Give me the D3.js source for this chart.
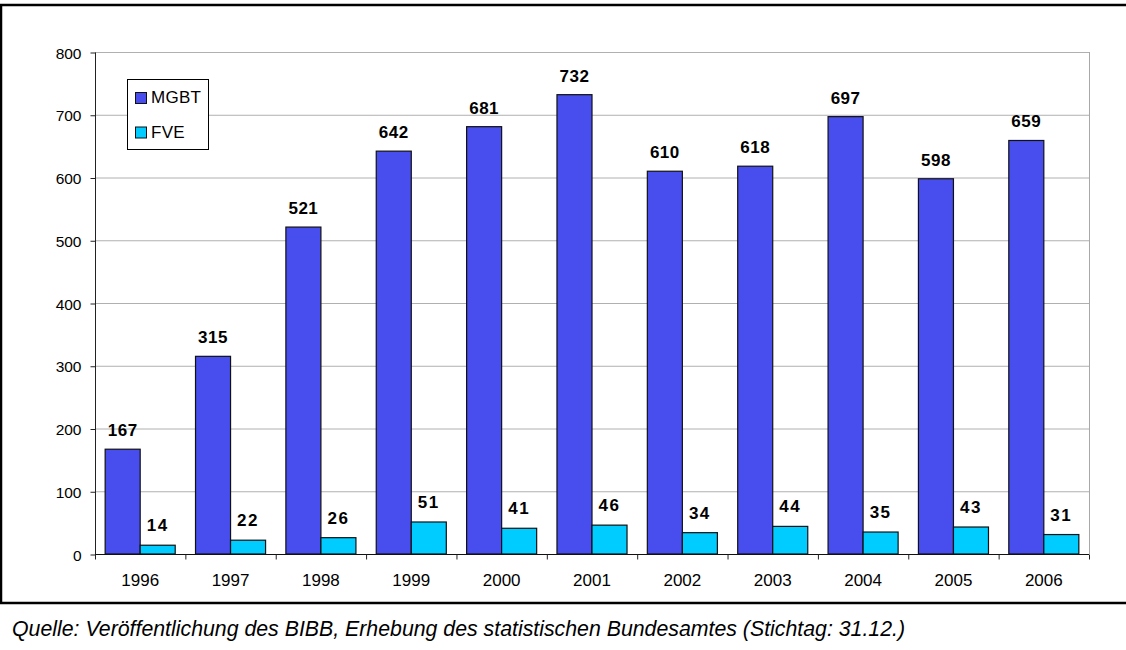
<!DOCTYPE html>
<html>
<head>
<meta charset="utf-8">
<script src="https://cdn.jsdelivr.net/npm/d3@7"></script>
<style>
  body { margin: 0; background: #fff; }
  svg { display: block; font-family: Arial, "Liberation Sans", sans-serif; }
</style>
</head>
<body>
<div id="graph"></div>
<script>
// Daten
var years = ["1996", "1997", "1998", "1999", "2000", "2001", "2002", "2003", "2004", "2005", "2006"];
var mgbt = [167, 315, 521, 642, 681, 732, 610, 618, 697, 598, 659];
var fve = [14, 22, 26, 51, 41, 46, 34, 44, 35, 43, 31];
var seriesNames = ["MGBT", "FVE"];
var seriesColors = ["#484ded", "#00ccff"];
var yTicks = [0, 100, 200, 300, 400, 500, 600, 700, 800];
var quelle = "Quelle: Veröffentlichung des BIBB, Erhebung des statistischen Bundesamtes (Stichtag: 31.12.)";

var width = 1126;
var height = 650;
// (window.top ist reserviert, daher andere Namen)
var plotLeft = 95, plotRight = 1089, plotTop = 52, plotBottom = 554;

var svg = d3.select("#graph")
            .append("svg")
            .attr("width", width)
            .attr("height", height);

// Rahmen
svg.append("line").attr("x1", 0).attr("x2", width).attr("y1", 5).attr("y2", 5)
   .style("stroke", "#000").style("stroke-width", 2.5);
svg.append("line").attr("x1", 1).attr("x2", 1).attr("y1", 4).attr("y2", 604)
   .style("stroke", "#000").style("stroke-width", 2.5);
svg.append("line").attr("x1", 0).attr("x2", width).attr("y1", 603).attr("y2", 603)
   .style("stroke", "#000").style("stroke-width", 2.5);

var xScale = d3.scaleBand().domain(years).range([plotLeft, plotRight]).paddingInner(0).paddingOuter(0);
var yScale = d3.scaleLinear().domain([0, 800]).range([plotBottom, plotTop]);
var inner = d3.scaleBand().domain(seriesNames).range([0, xScale.bandwidth()]).paddingOuter(0.29).paddingInner(0);

// Gitterlinien
svg.append("g")
   .selectAll("line")
   .data(yTicks.filter(function(d){ return d > 0; }))
   .enter().append("line")
   .attr("x1", plotLeft).attr("x2", plotRight)
   .attr("y1", function(d){ return yScale(d) + 0.5; })
   .attr("y2", function(d){ return yScale(d) + 0.5; })
   .style("stroke", "#b0b0b0").style("stroke-width", 1);
svg.append("line").attr("x1", plotRight + 0.5).attr("x2", plotRight + 0.5)
   .attr("y1", plotTop).attr("y2", plotBottom)
   .style("stroke", "#a8a8a8").style("stroke-width", 1);

// Balken
var data = [mgbt, fve];
var groups = svg.append("g")
   .selectAll("g")
   .data(seriesNames)
   .enter().append("g");
groups.selectAll("rect")
   .data(function(s, i){ return years.map(function(y, j){ return {year: y, value: data[i][j], s: s}; }); })
   .enter().append("rect")
   .attr("x", function(d){ return xScale(d.year) + inner(d.s); })
   .attr("y", function(d){ return yScale(d.value); })
   .attr("width", inner.bandwidth())
   .attr("height", function(d){ return plotBottom - yScale(d.value); })
   .style("fill", function(d){ return seriesColors[seriesNames.indexOf(d.s)]; })
   .style("stroke", "#111")
   .style("stroke-width", 1.2);

// Werte
groups.selectAll("text")
   .data(function(s, i){ return years.map(function(y, j){ return {year: y, value: data[i][j], s: s}; }); })
   .enter().append("text")
   .attr("x", function(d){ return xScale(d.year) + inner(d.s) + inner.bandwidth() / 2; })
   .attr("y", function(d){ return yScale(d.value) - (d.s == "MGBT" ? 13 : 14); })
   .attr("text-anchor", "middle")
   .style("font-size", "17px")
   .style("font-weight", "bold")
   .style("letter-spacing", function(d){ return d.s == "MGBT" ? "0.5px" : "1.5px"; })
   .style("fill", "#000")
   .text(function(d){ return d.value; });

// Achsen
var yAxis = d3.axisLeft(yScale).tickValues(yTicks).tickSize(5).tickPadding(9);
var ya = svg.append("g").attr("transform", "translate(" + (plotLeft + 0.5) + ",0.5)").call(yAxis);
ya.select(".domain").attr("d", "M0," + plotTop + "V" + plotBottom).style("stroke", "#222");
ya.selectAll(".tick line").style("stroke", "#222");
ya.selectAll(".tick text").style("font-size", "15.5px").style("fill", "#000")
  .style("font-family", "Arial, 'Liberation Sans', sans-serif").attr("dy", "0.36em");

var xAxis = d3.axisBottom(xScale).tickSize(0).tickPadding(19);
var xa = svg.append("g").attr("transform", "translate(0," + (plotBottom + 0.5) + ")").call(xAxis);
xa.select(".domain").attr("d", "M" + plotLeft + ",0H" + plotRight).style("stroke", "#111");
xa.selectAll(".tick text").style("font-size", "17px").style("fill", "#000")
  .style("font-family", "Arial, 'Liberation Sans', sans-serif");
// Teilstriche zwischen den Kategorien
xa.append("g").selectAll("line")
  .data(years.concat(["end"]))
  .enter().append("line")
  .attr("x1", function(d, i){ return plotLeft + i * xScale.bandwidth() + 0.5; })
  .attr("x2", function(d, i){ return plotLeft + i * xScale.bandwidth() + 0.5; })
  .attr("y1", 0).attr("y2", 5)
  .style("stroke", "#222");

// Legende
var legend = svg.append("g");
legend.append("rect").attr("x", 127.5).attr("y", 79.5).attr("width", 81).attr("height", 70)
      .style("fill", "#fff").style("stroke", "#000").style("stroke-width", 1);
var items = legend.selectAll("g")
      .data(seriesNames)
      .enter().append("g")
      .attr("transform", function(d, i){ return "translate(0," + (i * 34.5) + ")"; });
items.append("rect").attr("x", 135.5).attr("y", 92.5).attr("width", 11).attr("height", 11)
     .style("fill", function(d, i){ return seriesColors[i]; })
     .style("stroke", "#111").style("stroke-width", 1);
items.append("text").attr("x", 151).attr("y", 103)
     .style("font-size", "17px").style("letter-spacing", "0.3px")
     .text(function(d){ return d; });

// Quelle
svg.append("text").attr("x", 12).attr("y", 636)
   .style("font-size", "21.3px").style("font-style", "italic")
   .text(quelle);
</script>
</body>
</html>
